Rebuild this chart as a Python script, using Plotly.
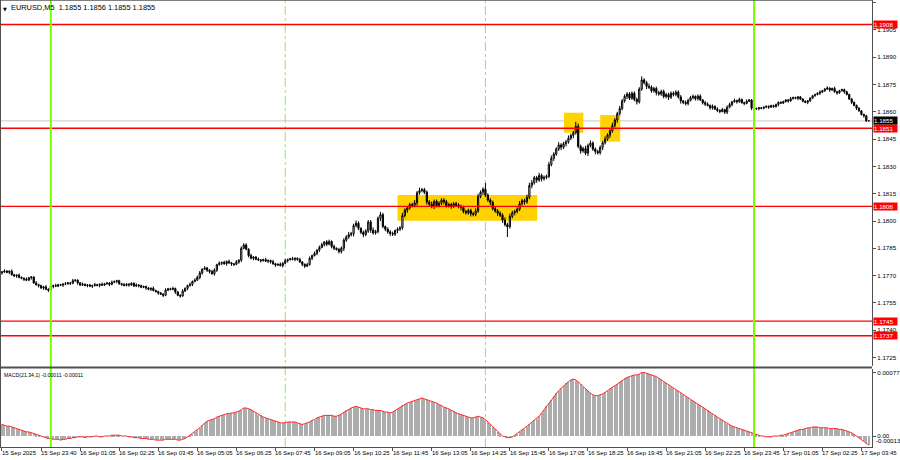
import plotly.graph_objects as go

# ---------------- data (prices in pips above 1.1700) ----------------
BASE = 1.1700
close_pips = [
    72.0, 72.5, 71.8, 72.4, 70.5, 69.8, 70.2, 69.0, 68.5, 68.0,
    67.5, 68.8, 69.2, 66.0, 65.0, 64.5, 63.2, 63.8, 62.5, 62.0,
    64.0, 64.5, 64.2, 65.0, 64.8, 65.3, 65.5, 66.0, 65.8, 67.2,
    67.5, 66.0, 64.8, 65.2, 64.6, 64.9, 64.2, 64.5, 65.0, 64.6,
    65.2, 64.8, 65.5, 65.9, 65.2, 66.3, 66.8, 67.2, 65.5, 65.0,
    64.6, 65.3, 64.9, 65.8, 64.3, 64.8, 64.5, 63.6, 64.0, 63.2,
    62.5, 63.0, 61.8, 61.2, 60.5, 59.8, 59.2, 62.0, 62.8, 62.4,
    62.9, 61.0, 59.2, 58.8, 61.5, 63.0, 64.5, 65.2, 66.8, 67.5,
    69.0, 71.5, 73.5, 74.2, 73.0, 72.2, 71.0, 73.0, 76.0, 76.8,
    77.2, 76.5, 77.8, 77.0, 76.4, 76.2, 77.5, 78.5, 85.0, 86.8,
    84.5, 81.0, 79.5, 80.2, 79.0, 78.6, 78.2, 78.8, 77.9, 78.3,
    77.6, 76.5, 75.8, 76.2, 75.5, 76.8, 78.2, 78.8, 79.3, 78.9,
    79.5, 78.8, 77.5, 76.2, 75.2, 76.0, 79.5, 81.0, 82.2, 84.0,
    85.5, 87.0, 88.5, 87.2, 88.8, 86.0, 85.0, 84.3, 83.2, 85.0,
    89.5, 91.2, 92.5, 93.0, 97.5, 98.8, 96.0, 93.8, 92.6, 94.5,
    99.5, 95.0, 93.5, 94.2, 101.5, 103.5, 97.0, 95.5, 94.0, 93.2,
    92.8, 94.8, 95.5, 96.2, 103.0, 106.0, 107.2, 109.0, 108.5, 110.0,
    115.5, 116.8, 117.2, 115.8, 110.5, 109.2, 108.0, 110.8, 108.5, 109.8,
    111.5, 110.6, 108.4, 109.0, 108.2, 109.5, 108.8, 108.0, 107.4, 105.2,
    104.5, 105.8, 104.0, 103.6, 105.5, 113.5, 115.8, 117.5, 114.2, 111.5,
    110.2, 106.8, 105.5, 104.3, 103.2, 100.5, 98.0, 96.8, 102.5, 104.6,
    105.2, 106.5, 109.5, 111.2, 110.5, 113.0, 119.5, 121.0, 123.8, 122.5,
    125.0, 123.2, 124.0, 124.5, 131.0, 134.5, 136.8, 139.5, 141.8, 140.5,
    142.5, 143.5, 145.5, 147.0, 148.5, 152.0, 141.0, 138.5, 139.8, 137.2,
    141.5, 142.8, 139.5, 138.2, 137.5, 140.5, 143.0, 145.0, 147.2, 149.5,
    152.5, 155.5, 159.0, 161.8, 166.0, 168.5, 169.8, 167.5, 170.2, 166.8,
    165.5, 172.5, 177.5, 176.0, 174.0, 173.5, 171.5, 172.8, 170.5, 169.8,
    171.2, 168.4, 169.5, 168.0, 170.2, 169.5, 170.8, 168.2, 166.0, 165.2,
    164.5, 166.2, 167.8, 168.5, 167.2, 168.6, 166.5, 165.0, 164.2, 163.5,
    162.2, 163.0, 161.5, 160.8, 160.2, 161.2, 159.8, 162.5, 164.0, 165.5,
    166.2, 165.5, 166.8, 165.0, 164.6, 165.8, 166.5, 162.0, 161.5, 161.8,
    162.2, 161.9, 162.5, 163.0, 162.6, 163.4, 162.8, 164.0, 165.2, 164.8,
    165.6, 166.5, 166.0, 167.2, 167.8, 167.4, 168.2, 167.0, 165.8, 165.2,
    166.0, 167.5, 168.8, 169.5, 170.2, 170.8, 171.5, 172.5, 173.0, 172.0,
    172.8, 171.0, 170.4, 171.6, 172.2, 171.0, 169.5, 167.0, 165.2, 163.5,
    162.0, 160.5, 158.5, 157.8, 155.0, 155.0,
]
first_open_pips = 71.5
# upper / lower wick lengths beyond the body, in half-pips
wick_up = [
    1, 2, 1, 1, 2, 1, 1, 2, 1, 1,   2, 1, 1, 1, 2, 1, 1, 1, 2, 1,
    1, 1, 2, 1, 1, 1, 2, 1, 1, 2,   1, 1, 1, 2, 1, 1, 1, 1, 2, 1,
    1, 2, 1, 1, 1, 2, 1, 1, 1, 1,   2, 1, 1, 1, 1, 2, 1, 1, 1, 1,
    1, 1, 2, 1, 1, 1, 1, 2, 1, 1,   2, 1, 1, 1, 2, 1, 1, 2, 1, 2,
    2, 2, 1, 2, 1, 1, 2, 2, 1, 2,   1, 2, 1, 2, 1, 1, 2, 1, 2, 2,
    2, 1, 2, 1, 1, 2, 1, 1, 2, 1,   1, 2, 1, 1, 2, 1, 2, 1, 1, 2,
    1, 1, 2, 1, 1, 2, 2, 1, 2, 1,   2, 2, 1, 2, 2, 1, 2, 1, 2, 2,
    2, 2, 3, 2, 2, 3, 2, 1, 2, 2,   2, 2, 3, 2, 2, 2, 2, 1, 2, 2,
    2, 1, 2, 2, 3, 2, 2, 2, 2, 3,   2, 3, 2, 2, 2, 2, 3, 2, 2, 2,
    2, 2, 2, 2, 2, 2, 2, 2, 2, 2,   2, 2, 2, 2, 3, 3, 2, 2, 2, 2,
    2, 2, 2, 2, 2, 2, 3, 2, 3, 2,   2, 2, 3, 2, 2, 3, 3, 2, 2, 2,
    3, 2, 2, 2, 3, 3, 2, 2, 3, 2,   2, 2, 3, 2, 2, 2, 3, 2, 2, 3,
    2, 3, 2, 2, 2, 2, 2, 3, 2, 2,   3, 2, 2, 3, 2, 2, 2, 2, 2, 2,
    2, 2, 2, 2, 2, 3, 2, 2, 2, 2,   2, 2, 2, 2, 2, 2, 2, 2, 2, 1,
    2, 2, 2, 2, 1, 2, 2, 1, 2, 2,   1, 2, 1, 2, 1, 2, 1, 2, 2, 1,
    2, 1, 2, 1, 1, 2, 1, 1, 1, 1,   1, 1, 1, 1, 1, 1, 1, 1, 1, 1,
    1, 1, 1, 2, 1, 1, 1, 1, 1, 1,   1, 1, 1, 1, 1, 2, 1, 1, 2, 1,
    1, 2, 1, 1, 1, 1, 1, 1, 1, 1,   1, 1, 1, 1, 1, 0,
]
wick_dn = [
    2, 1, 1, 2, 1, 1, 2, 1, 1, 2,   1, 1, 2, 1, 1, 2, 1, 2, 1, 2,
    1, 2, 1, 1, 1, 2, 1, 1, 2, 1,   1, 2, 1, 1, 1, 2, 1, 2, 1, 1,
    2, 1, 1, 1, 2, 1, 1, 2, 1, 1,   1, 1, 2, 1, 1, 1, 2, 1, 1, 2,
    1, 2, 1, 1, 2, 1, 2, 1, 1, 1,   1, 2, 1, 2, 1, 1, 2, 1, 2, 1,
    1, 2, 2, 1, 2, 2, 1, 2, 2, 1,   2, 1, 2, 1, 2, 2, 1, 2, 2, 1,
    1, 2, 1, 2, 1, 1, 2, 1, 1, 2,   2, 1, 2, 1, 1, 2, 1, 2, 1, 1,
    2, 1, 1, 2, 2, 1, 1, 2, 1, 2,   2, 1, 2, 2, 1, 2, 2, 1, 2, 2,
    3, 2, 2, 2, 3, 2, 2, 2, 3, 2,   2, 3, 2, 2, 2, 3, 2, 2, 2, 3,
    2, 2, 3, 2, 2, 2, 3, 2, 2, 2,   3, 2, 2, 2, 3, 2, 2, 3, 2, 2,
    2, 3, 2, 2, 3, 2, 2, 2, 3, 2,   2, 2, 3, 2, 2, 2, 2, 3, 2, 2,
    3, 2, 2, 3, 2, 3, 2, 4, 2, 2,   3, 2, 2, 2, 3, 2, 2, 3, 2, 3,
    2, 3, 2, 2, 2, 2, 3, 2, 2, 3,   2, 3, 2, 2, 3, 2, 2, 3, 2, 2,
    3, 2, 2, 3, 2, 2, 3, 2, 2, 3,   2, 2, 3, 2, 2, 2, 3, 2, 2, 2,
    3, 2, 2, 2, 3, 2, 2, 2, 3, 2,   2, 2, 2, 3, 2, 2, 2, 2, 3, 2,
    2, 2, 1, 2, 2, 2, 1, 2, 2, 1,   2, 2, 1, 2, 2, 1, 2, 2, 1, 2,
    1, 2, 1, 1, 2, 1, 1, 2, 1, 1,   2, 1, 1, 1, 2, 1, 1, 1, 2, 1,
    1, 1, 2, 1, 1, 1, 2, 1, 1, 1,   2, 1, 1, 1, 1, 2, 1, 1, 1, 2,
    1, 1, 2, 1, 1, 2, 1, 1, 2, 1,   2, 1, 1, 2, 1, 0,
]
wick_high_pips = {99: 87.5, 155: 105.0, 198: 121.0, 217: 122.5, 235: 154.5, 262: 179.5}
wick_low_pips = {19: 61.5, 66: 58.5, 73: 58.0, 207: 91.2}

# MACD(21,34,1) histogram values in units of 1e-5
macd_e5 = [
    14, 13, 12, 12, 11, 10, 9, 8,
    7, 6, 5, 5, 4, 3, 2, 1, 0, -1,
    -2, -3, -3, -4, -4, -4, -5, -4, -4, -3, -3, -2,
    -2, -1, -1, -1, -2, -1, -1, -1, 0, 0, -1, -1, 0, 0,
    0, 1, 1, 1, 1, 0, 0, 0, -1,
    -1, -2, -2, -2, -3, -3, -3, -4, -4, -4, -5, -5, -5, -5, -4, -4, -4, -4, -4, -5,
    -5, -4, -3, -1, 1, 3, 5, 7,
    10, 13, 16, 18, 19, 20, 21, 23, 24, 25, 26, 27, 27, 28, 28, 29, 30,
    32, 34, 34, 33, 32, 30, 28, 26,
    25, 23, 22, 21, 20, 19, 18, 17, 16, 16, 16, 17, 17, 17, 17, 16,
    15, 14, 15, 16, 17, 19, 20, 22, 23, 24, 25, 25, 25, 25, 24, 24,
    25, 27, 29, 31, 33, 34, 35, 36,
    35, 34, 33, 33, 33, 32, 32, 31, 31, 31, 30, 29, 29, 28, 29,
    31, 33, 35, 37, 39, 40, 41, 42, 43, 44, 45, 46, 45, 44,
    43, 42, 41, 40, 38, 37, 35, 34, 33, 31, 30, 28, 27, 26, 25, 24,
    23, 22, 22, 23, 24, 23, 22, 20, 17, 14, 11, 8, 5,
    2, 0, -1, -2, -2, -1,
    1, 3, 5, 7, 9, 11, 14, 17, 19, 21,
    24, 28, 32, 36, 40, 44, 48, 52, 55, 58, 61, 64, 66, 68,
    69, 68, 66, 63, 60, 57, 54, 52, 50, 49,
    49, 50, 51, 53, 55, 57,
    59, 61, 63, 66, 68, 70, 71, 72, 73, 74, 74, 75, 77,
    77, 76, 75, 74, 73, 72, 70, 68, 66, 64, 62, 60, 58, 56, 54, 52, 50, 48, 46, 44, 43, 41,
    39, 37, 35, 33, 31, 29, 27, 25, 23, 21, 19, 17, 15, 13, 12, 11, 10, 9, 8, 7, 6, 5,
    4, 3, 2, 1, 0, 0, -1, -1, -1, 0, 0, 0, 1, 1, 2,
    3, 4, 5, 6, 7, 8, 8, 9, 10, 10, 11, 11, 11, 10, 10, 10, 10,
    9, 9, 9, 9, 8, 8, 7, 6, 5, 4,
    2, 0, -2, -4, -6, -9, -11,
]

x_tick_idx = [0, 16, 32, 48, 64, 80, 96, 112, 128, 144, 160, 176, 192, 208,
              224, 240, 256, 272, 288, 304, 320, 336, 352]
x_tick_text = ['15 Sep 2025', '15 Sep 23:40', '16 Sep 01:05', '16 Sep 02:25',
               '16 Sep 03:45', '16 Sep 05:05', '16 Sep 06:25', '16 Sep 07:45',
               '16 Sep 09:05', '16 Sep 10:25', '16 Sep 11:45', '16 Sep 13:05',
               '16 Sep 14:25', '16 Sep 15:45', '16 Sep 17:05', '16 Sep 18:25',
               '16 Sep 19:45', '16 Sep 21:05', '16 Sep 22:25', '16 Sep 23:45',
               '17 Sep 01:05', '17 Sep 02:25', '17 Sep 03:45']
price_ticks = [1.1725, 1.1740, 1.1755, 1.1770, 1.1785, 1.1800, 1.1815, 1.1830,
               1.1845, 1.1860, 1.1875, 1.1890, 1.1905, 1.1920]
macd_ticks = [0.00077, 0.0]
macd_tick_text = ['0.00077', '0.00']
macd_min_text = '-0.00013'
levels = [1.1908, 1.1851, 1.1808, 1.1745, 1.1737]
bid_price = 1.1855
day_separators = [20, 308]
session_lines = [116, 198]
zones = [(162.0, 219.2, 1.18002, 1.18143),
         (230.2, 238.1, 1.18485, 1.18595),
         (245.0, 253.2, 1.18436, 1.18582)]
title_text = 'EURUSD,M5  1.1855 1.1856 1.1855 1.1855'
macd_text = 'MACD(21,34,1) -0.00011 -0.00011'

# ---------------- build OHLC ----------------
n = len(close_pips)
idx = list(range(n))
opens, highs, lows, closes = [], [], [], []
prev = first_open_pips
for i, c in enumerate(close_pips):
    o = prev
    wu = wick_up[i] * 0.5 if i < len(wick_up) else 0.5
    wd = wick_dn[i] * 0.5 if i < len(wick_dn) else 0.5
    h = max(max(o, c) + wu, wick_high_pips.get(i, -1e9))
    l = min(min(o, c) - wd, wick_low_pips.get(i, 1e9))
    opens.append(BASE + o / 10000)
    highs.append(BASE + h / 10000)
    lows.append(BASE + l / 10000)
    closes.append(BASE + c / 10000)
    prev = c
macd = [v / 100000 for v in macd_e5]

FONT = 'Liberation Sans'
FS = 6.2
fig = go.Figure()
fig.add_trace(go.Candlestick(
    x=idx, open=opens, high=highs, low=lows, close=closes,
    increasing=dict(line=dict(color='#000000', width=1), fillcolor='#ffffff'),
    decreasing=dict(line=dict(color='#000000', width=1), fillcolor='#000000'),
    whiskerwidth=0, xaxis='x', yaxis='y', hoverinfo='skip', showlegend=False))
fig.add_trace(go.Bar(x=list(range(len(macd))), y=macd, width=0.42,
                     marker=dict(color='#adadad', line=dict(width=0)),
                     xaxis='x', yaxis='y2', showlegend=False, hoverinfo='skip'))
fig.add_trace(go.Scatter(x=list(range(len(macd))), y=macd, mode='lines',
                         line=dict(color='#ff2a2a', width=1),
                         xaxis='x', yaxis='y2', showlegend=False, hoverinfo='skip'))

H = 447.0
main_bottom = 1 - 366 / H
macd_top = 1 - 369 / H

shapes = []
for x0, x1, y0, y1 in zones:
    shapes.append(dict(type='rect', xref='x', yref='y', x0=x0, x1=x1, y0=y0, y1=y1,
                       fillcolor='#ffd200', line=dict(width=0), layer='below'))
shapes.append(dict(type='line', xref='paper', yref='y', x0=0, x1=1, y0=bid_price, y1=bid_price,
                   line=dict(color='#c8c8c8', width=1), layer='below'))
lw = {1.1908: 1.5, 1.1851: 1.5, 1.1808: 1.2, 1.1745: 1.2, 1.1737: 1.5}
for lv in levels:
    shapes.append(dict(type='line', xref='paper', yref='y', x0=0, x1=1, y0=lv, y1=lv,
                       line=dict(color='#ff0000', width=lw[lv]), layer='above'))
for s in session_lines:
    shapes.append(dict(type='line', xref='x', yref='paper', x0=s, x1=s, y0=0, y1=1,
                       line=dict(color='#99e07a', width=1, dash='dashdot'), layer='below'))
for d in day_separators:
    shapes.append(dict(type='line', xref='x', yref='paper', x0=d, x1=d, y0=0, y1=1,
                       line=dict(color='#7cfc00', width=2), layer='above'))
sep_y = (main_bottom + macd_top) / 2
shapes.append(dict(type='line', xref='paper', yref='paper', x0=0, x1=1, y0=sep_y, y1=sep_y,
                   line=dict(color='#505050', width=2)))
shapes.append(dict(type='line', xref='paper', yref='paper', x0=0.0006, x1=0.0006, y0=0, y1=1,
                   line=dict(color='#505050', width=1)))
shapes.append(dict(type='line', xref='paper', yref='paper', x0=0, x1=1, y0=0.9995, y1=0.9995,
                   line=dict(color='#505050', width=1)))

annotations = []
annotations.append(dict(xref='paper', yref='paper', x=0, y=1, xanchor='left', yanchor='top',
                        text='▼', showarrow=False, xshift=1, yshift=-4,
                        font=dict(family='DejaVu Sans', size=5, color='#000')))
annotations.append(dict(xref='paper', yref='paper', x=0, y=1, xanchor='left', yanchor='top',
                        text=title_text, showarrow=False, xshift=9, yshift=-1,
                        font=dict(family=FONT, size=7.4, color='#000')))
annotations.append(dict(xref='paper', yref='paper', x=0, y=macd_top, xanchor='left', yanchor='top',
                        text=macd_text, showarrow=False, xshift=2, yshift=-1,
                        font=dict(family=FONT, size=5.2, color='#000')))
for ti, tt in zip(x_tick_idx, x_tick_text):
    annotations.append(dict(xref='x', yref='paper', x=ti, y=0, xanchor='left', yanchor='top',
                            text=tt, showarrow=False, xshift=-2, yshift=-1,
                            font=dict(family=FONT, size=6, color='#000')))
annotations.append(dict(xref='paper', yref='paper', x=1, y=0, xanchor='left', yanchor='bottom',
                        text=macd_min_text, showarrow=False, xshift=2, yshift=1,
                        font=dict(family=FONT, size=FS, color='#000')))
for lv in levels:
    annotations.append(dict(xref='paper', yref='y', x=1, y=lv, xanchor='left', yanchor='middle',
                            text=f'{lv:.4f}', showarrow=False, xshift=1, bgcolor='#ff0000',
                            borderpad=0, width=23, align='left',
                            font=dict(family=FONT, size=FS, color='#fff')))
annotations.append(dict(xref='paper', yref='y', x=1, y=bid_price, xanchor='left', yanchor='middle',
                        text=f'{bid_price:.4f}', showarrow=False, xshift=1, bgcolor='#000000',
                        borderpad=0, width=23, align='left',
                        font=dict(family=FONT, size=FS, color='#fff')))

xr0 = -2 / 2.45
fig.update_layout(
    width=900, height=460,
    margin=dict(l=0, r=25, t=0, b=13),
    paper_bgcolor='#ffffff', plot_bgcolor='#ffffff',
    showlegend=False, bargap=0,
    font=dict(family=FONT, size=FS, color='#000'),
    xaxis=dict(domain=[0, 1], range=[xr0, xr0 + 875 / 2.45], anchor='y2',
               showgrid=False, zeroline=False, rangeslider=dict(visible=False),
               showline=True, linecolor='#505050', linewidth=1,
               ticks='outside', ticklen=3, tickcolor='#505050',
               tickvals=x_tick_idx, showticklabels=False),
    yaxis=dict(domain=[main_bottom, 1], range=[1.172033, 1.192143], side='right',
               anchor='x', showgrid=False, zeroline=False,
               showline=True, linecolor='#505050', linewidth=1,
               ticks='outside', ticklen=3, tickcolor='#505050',
               tickvals=price_ticks, ticktext=[f'{p:.4f}' for p in price_ticks],
               tickfont=dict(family=FONT, size=FS, color='#000')),
    yaxis2=dict(domain=[0, macd_top], range=[-0.000133, 0.000812], side='right',
                anchor='x', showgrid=False, zeroline=False,
                showline=True, linecolor='#505050', linewidth=1,
                ticks='outside', ticklen=3, tickcolor='#505050',
                tickvals=macd_ticks, ticktext=macd_tick_text,
                tickfont=dict(family=FONT, size=FS, color='#000')),
    shapes=shapes, annotations=annotations,
)
fig.write_html('out.html', config={'displayModeBar': False},
               post_script="document.body.style.margin='0px';document.body.style.overflow='hidden';")
